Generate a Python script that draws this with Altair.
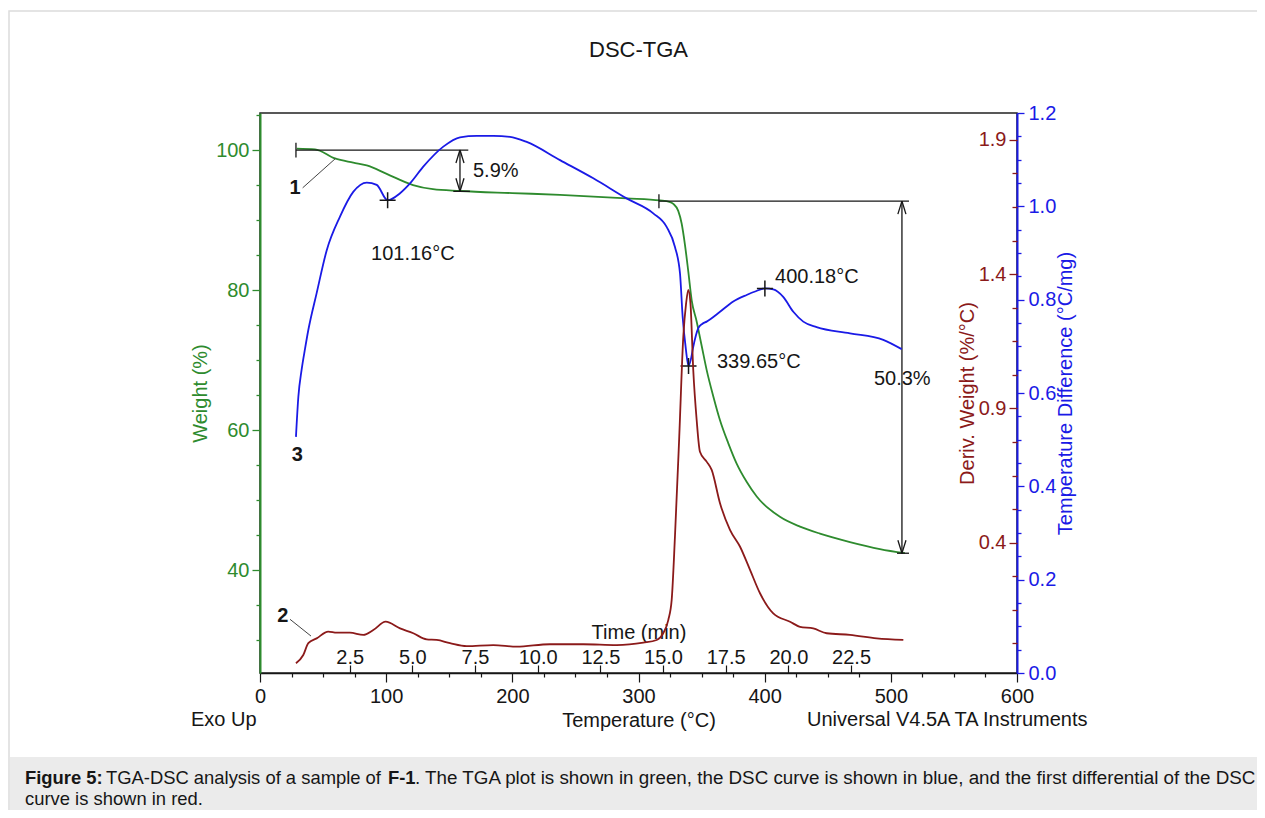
import altair as alt
import pandas as pd

FONT = "Liberation Sans"
W, H = 757, 560

# ---------------- data ----------------
# TGA curve (green): weight %
tga_temp = [29.1, 43.6, 59.4, 73.9, 84.6, 100.4, 121.3, 137.1, 158.5, 200.0, 237.8, 290.6,
            317.0, 324.5, 327.6, 331.5, 334.2, 336.8, 339.5, 342.2, 346.1, 350.1, 354.0,
            359.3, 364.6, 371.2, 377.8, 385.7, 393.7, 412.1, 428.0, 443.8, 467.6, 491.4, 511.2]
tga_weight = [100.2, 100.1, 98.8, 98.2, 97.8, 96.6, 95.0, 94.4, 94.15, 93.85, 93.6, 93.1,
              92.8, 92.6, 92.3, 91.3, 89.5, 86.5, 82.6, 78.5, 75.5, 72.0, 68.6,
              64.8, 61.4, 58.1, 55.2, 52.6, 50.5, 47.6, 46.2, 45.2, 44.0, 43.0, 42.4]

# DSC curve (blue): temperature difference, °C/mg
dsc_temp = [28.5, 30.4, 33.0, 35.7, 38.3, 44.9, 52.9, 63.4, 73.9, 84.6, 92.5, 101.16, 111.0,
            118.9, 129.4, 145.3, 158.5, 171.8, 185.0, 198.1, 211.4, 237.8, 264.2, 290.6, 311.7,
            322.3, 328.9, 332.9, 335.0, 337.5, 339.65, 341.5, 343.4, 347.4, 350.5, 354.0, 364.6,
            375.1, 385.7, 393.0, 400.18, 406.8, 414.7, 422.7, 430.6, 441.2, 467.6, 494.0, 508.6]
dsc_val = [0.506, 0.592, 0.650, 0.695, 0.735, 0.814, 0.906, 0.978, 1.031, 1.051, 1.046, 1.013, 1.028,
           1.049, 1.085, 1.128, 1.148, 1.151, 1.151, 1.149, 1.138, 1.099, 1.060, 1.017, 0.985,
           0.956, 0.913, 0.856, 0.763, 0.695, 0.658, 0.672, 0.699, 0.739, 0.748, 0.753, 0.774,
           0.796, 0.810, 0.818, 0.824, 0.822, 0.806, 0.774, 0.753, 0.741, 0.728, 0.714, 0.694]

# Derivative curve (red): deriv. weight, %/°C
dtg_temp = [28.5, 34.3, 38.3, 44.9, 54.1, 60.8, 71.3, 81.9, 89.8, 99.6, 111.0, 121.5, 132.1,
            140.0, 150.6, 163.8, 184.9, 203.5, 229.8, 256.2, 282.7, 303.8, 314.4, 319.6, 323.6,
            326.3, 328.9, 332.3, 335.5, 337.7, 339.5, 341.2, 343.4, 346.1, 348.7, 354.0, 358.0,
            364.6, 372.5, 380.4, 388.4, 396.3, 406.8, 420.1, 428.0, 438.5, 449.2, 467.6, 488.8, 509.9]
dtg_val = [-0.049, -0.018, 0.026, 0.044, 0.069, 0.065, 0.065, 0.057, 0.075, 0.106, 0.081, 0.063, 0.040,
           0.038, 0.026, 0.015, 0.019, 0.013, 0.022, 0.022, 0.019, 0.028, 0.038, 0.063, 0.112,
           0.187, 0.423, 0.795, 1.167, 1.290, 1.341, 1.290, 1.043, 0.857, 0.739, 0.702, 0.671,
           0.547, 0.448, 0.386, 0.299, 0.212, 0.137, 0.106, 0.087, 0.081, 0.063, 0.057, 0.044, 0.038]

# marked DSC extrema
peak_temp = [101.16, 339.65, 400.18]
peak_val = [1.013, 0.658, 0.824]

# step annotations (in temperature / weight units)
seg_t1 = [28.5, 28.5, 158.5, 153.2, 155.3, 161.7, 155.3, 161.7,
          316.2, 316.2, 508.8, 504.9, 505.6, 512.0, 505.6, 512.0]
seg_w1 = [100.0, 101.05, 100.0, 94.1, 98.14, 98.14, 95.96, 95.96,
          92.7, 93.7, 92.7, 42.4, 90.84, 90.84, 44.26, 44.26]
seg_t2 = [165.1, 28.5, 158.5, 166.4, 158.5, 158.5, 158.5, 158.5,
          514.4, 316.2, 508.8, 514.4, 508.8, 508.8, 508.8, 508.8]
seg_w2 = [100.0, 98.95, 94.1, 94.1, 100.0, 100.0, 94.1, 94.1,
          92.7, 91.7, 42.4, 42.4, 92.7, 92.7, 42.4, 42.4]

# curve-number leader lines
lead_t1 = [33.8, 23.8]
lead_w1 = [94.6, 32.96]
lead_t2 = [59.9, 40.4]
lead_w2 = [98.8, 30.57]

ann_text = ["5.9%", "101.16°C", "339.65°C", "400.18°C", "50.3%"]
ann_t = [168.8, 88.0, 362.2, 408.2, 486.6]
ann_w = [96.19, 84.3, 68.86, 81.0, 66.43]

num_text = ["1", "2", "3"]
num_t = [27.7, 18.0, 29.6]
num_w = [94.6, 33.4, 56.4]

# axes
T_DOMAIN = [0, 600]
W_DOMAIN = [25.29, 105.29]
DSC_DOMAIN = [0, 1.2]
DTG_DOMAIN = [-0.085, 2.0]
HEAT_T0, HEAT_RATE = 21.4, 19.87          # °C at t=0, °C/min
TIME_DOMAIN = [(T_DOMAIN[0] - HEAT_T0) / HEAT_RATE, (T_DOMAIN[1] - HEAT_T0) / HEAT_RATE]

temp_ticks = list(range(0, 625, 25))
time_ticks = [2.5, 5.0, 7.5, 10.0, 12.5, 15.0, 17.5, 20.0, 22.5]
weight_ticks = list(range(30, 110, 5))
dsc_ticks = [round(i * 0.05, 2) for i in range(25)]
dtg_ticks = [round(1.9 - i * 0.125, 3) for i in range(16)]

GREEN = "#2e8b2e"
BLUE = "#1a1ae6"
RED = "#8b1a1a"
INK = "#161616"

tga_df = pd.DataFrame({"T": tga_temp, "w": tga_weight})
dsc_df = pd.DataFrame({"T": dsc_temp, "v": dsc_val})
dtg_df = pd.DataFrame({"T": dtg_temp, "v": dtg_val})
peak_df = pd.DataFrame({"T": peak_temp, "v": peak_val})
seg_df = pd.DataFrame({"t1": seg_t1, "w1": seg_w1, "t2": seg_t2, "w2": seg_w2})
lead_df = pd.DataFrame({"t1": lead_t1, "w1": lead_w1, "t2": lead_t2, "w2": lead_w2})
ann_df = pd.DataFrame({"T": ann_t, "w": ann_w, "txt": ann_text})
num_df = pd.DataFrame({"T": num_t, "w": num_w, "txt": num_text})
time_df = pd.DataFrame({"t": time_ticks})

xs = alt.Scale(domain=T_DOMAIN, nice=False, zero=False)
ws = alt.Scale(domain=W_DOMAIN, nice=False, zero=False)
ds = alt.Scale(domain=DSC_DOMAIN, nice=False, zero=False)

temp_axis = alt.Axis(
    orient="bottom", values=temp_ticks, format="d", grid=False,
    tickSize={"condition": {"test": "datum.value % 100 === 0", "value": 9}, "value": 4},
    labelExpr="datum.value % 100 === 0 ? datum.label : ''",
    labelFontSize=20, labelColor=INK, labelBaseline="alphabetic", labelPadding=20,
    labelFlush=False, labelOverlap=False,
    domainColor=INK, domainWidth=1.5, tickColor=INK, tickWidth=1.2,
    title="Temperature (°C)", titleFontSize=20, titleFontWeight="normal", titleColor=INK,
    titleBaseline="alphabetic", titleY=53,
)
time_axis = alt.Axis(
    orient="top", offset=-H, values=time_ticks, format=".1f", grid=False,
    tickSize=8, tickColor=INK, tickWidth=1.2, domain=False,
    labelFontSize=20, labelColor=INK, labelBaseline="alphabetic", labelPadding=2,
    labelFlush=False, labelOverlap=False,
    title="Time (min)", titleFontSize=20, titleFontWeight="normal", titleColor=INK,
    titleBaseline="alphabetic", titleY=-35,
)
weight_axis = alt.Axis(
    orient="left", values=weight_ticks, format="d", grid=False,
    tickSize={"condition": {"test": "datum.value % 20 === 0", "value": 8}, "value": 4},
    labelExpr="datum.value % 20 === 0 ? datum.label : ''",
    labelFontSize=20, labelColor=GREEN, labelPadding=3, labelOverlap=False,
    domainColor=GREEN, domainWidth=2, tickColor=GREEN, tickWidth=1.3,
    title="Weight (%)", titleFontSize=20, titleFontWeight="normal", titleColor=GREEN,
    titleAngle=270, titleX=-60, titleY=H / 2, titleAlign="center", titleBaseline="middle",
)
dtg_test = "abs((datum.value - 0.4) * 2 - round((datum.value - 0.4) * 2)) < 0.001"
dtg_axis = alt.Axis(
    orient="left", offset=-W, values=dtg_ticks, format=".1f", grid=False,
    tickSize={"condition": {"test": dtg_test, "value": 8}, "value": 5},
    labelExpr=f"({dtg_test}) ? datum.label : ''",
    labelFontSize=20, labelColor=RED, labelPadding=3, labelOverlap=False,
    domain=False, tickColor=RED, tickWidth=1.3,
    title="Deriv. Weight (%/°C)", titleFontSize=20, titleFontWeight="normal", titleColor=RED,
    titleAngle=270, titleX=-50, titleY=H / 2, titleAlign="center", titleBaseline="middle",
)
dsc_test = "abs(datum.value * 5 - round(datum.value * 5)) < 0.001"
dsc_axis = alt.Axis(
    orient="right", values=dsc_ticks, format=".1f", grid=False,
    tickSize={"condition": {"test": dsc_test, "value": 7}, "value": 4},
    labelExpr=f"({dsc_test}) ? datum.label : ''",
    labelFontSize=20, labelColor=BLUE, labelPadding=4, labelOverlap=False,
    domainColor=BLUE, domainWidth=2, tickColor=BLUE, tickWidth=1.3,
    title="Temperature Difference (°C/mg)", titleFontSize=20, titleFontWeight="normal",
    titleColor=BLUE, titleAngle=270, titleX=48, titleY=H / 2, titleAlign="center",
    titleBaseline="middle",
)

# shared encodings for the green group (same axis object everywhere so they merge)
gx = lambda f: alt.X(f, scale=xs, axis=temp_axis)
gy = lambda f: alt.Y(f, scale=ws, axis=weight_axis)

# ---------------- green group (TGA + annotations) ----------------
tga_line = alt.Chart(tga_df).mark_line(color=GREEN, strokeWidth=1.8, interpolate="monotone").encode(
    x=gx("T:Q"), y=gy("w:Q"),
)
segs = alt.Chart(seg_df).mark_rule(color=INK, strokeWidth=1.3).encode(
    x=gx("t1:Q"), x2="t2:Q", y=gy("w1:Q"), y2="w2:Q",
)
leads = alt.Chart(lead_df).mark_rule(color="#444", strokeWidth=1).encode(
    x=gx("t1:Q"), x2="t2:Q", y=gy("w1:Q"), y2="w2:Q",
)
ann = alt.Chart(ann_df).mark_text(align="left", baseline="alphabetic", fontSize=20, color=INK).encode(
    x=gx("T:Q"), y=gy("w:Q"), text="txt:N",
)
nums = alt.Chart(num_df).mark_text(align="center", baseline="middle", fontSize=20,
                                   fontWeight="bold", color=INK).encode(
    x=gx("T:Q"), y=gy("w:Q"), text="txt:N",
)
green_group = alt.layer(tga_line, segs, leads, ann, nums)

# ---------------- blue group (DSC + markers) ----------------
dsc_line = alt.Chart(dsc_df).mark_line(color=BLUE, strokeWidth=1.8, interpolate="monotone").encode(
    x=alt.X("T:Q", scale=xs, axis=None),
    y=alt.Y("v:Q", scale=ds, axis=dsc_axis),
)
peaks = alt.Chart(peak_df).mark_point(shape="M-1,0L1,0M0,-1L0,1", size=256, filled=False,
                                      color=INK, strokeWidth=1.5, opacity=1).encode(
    x=alt.X("T:Q", scale=xs, axis=None),
    y=alt.Y("v:Q", scale=ds, axis=dsc_axis),
)
blue_group = alt.layer(dsc_line, peaks)

# ---------------- red layer (derivative) ----------------
red_line = alt.Chart(dtg_df).mark_line(color=RED, strokeWidth=1.8, interpolate="monotone").encode(
    x=alt.X("T:Q", scale=xs, axis=None),
    y=alt.Y("v:Q", scale=alt.Scale(domain=DTG_DOMAIN, nice=False, zero=False), axis=dtg_axis),
)

# ---------------- time axis (secondary x) ----------------
time_layer = alt.Chart(time_df).mark_point(opacity=0).encode(
    x=alt.X("t:Q", scale=alt.Scale(domain=TIME_DOMAIN, nice=False, zero=False), axis=time_axis),
    y=alt.value(0),
)


def note(text, x, y, size=20, align="left", weight="normal", color=INK):
    return alt.Chart(alt.Data(values=[{}])).mark_text(
        text=text, fontSize=size, align=align, baseline="alphabetic", fontWeight=weight, color=color
    ).encode(x=alt.value(x), y=alt.value(y))


frame = alt.Chart(alt.Data(values=[{}])).mark_rect(
    fillOpacity=0, stroke="#dcdcdc", strokeWidth=1.5
).encode(x=alt.value(-251), x2=alt.value(1010), y=alt.value(-102), y2=alt.value(712))
caption_box = alt.Chart(alt.Data(values=[{}])).mark_rect(color="#ebebeb").encode(
    x=alt.value(-250), x2=alt.value(1010), y=alt.value(644), y2=alt.value(712)
)

CAP = 18.4
texts = [
    note("DSC-TGA", W / 2, -56, size=22, align="center"),
    note("Exo Up", -69, 613),
    note("Universal V4.5A TA Instruments", 547, 613),
    note("Figure 5:", -235, 671, size=CAP, weight="bold"),
    note("TGA-DSC analysis of a sample of", -154, 671, size=CAP),
    note("F-1", 128, 671, size=CAP, weight="bold"),
    note(". The TGA plot is shown in green, the DSC curve is shown in blue, and the first differential of the DSC",
         155, 671, size=18.8),
    note("curve is shown in red.", -235, 692, size=CAP),
]

chart = alt.layer(
    caption_box, frame,
    green_group, blue_group, red_line, time_layer,
    *texts,
).resolve_scale(
    x="independent", y="independent"
).properties(
    width=W, height=H,
    padding={"left": 252, "top": 105, "right": 240, "bottom": 137},
    autosize=alt.AutoSizeParams(type="none"),
    background="white",
).configure(
    font=FONT
).configure_view(
    stroke="#222", strokeWidth=1.5
)

chart.save("out.html", embed_options={"renderer": "svg", "actions": False})
